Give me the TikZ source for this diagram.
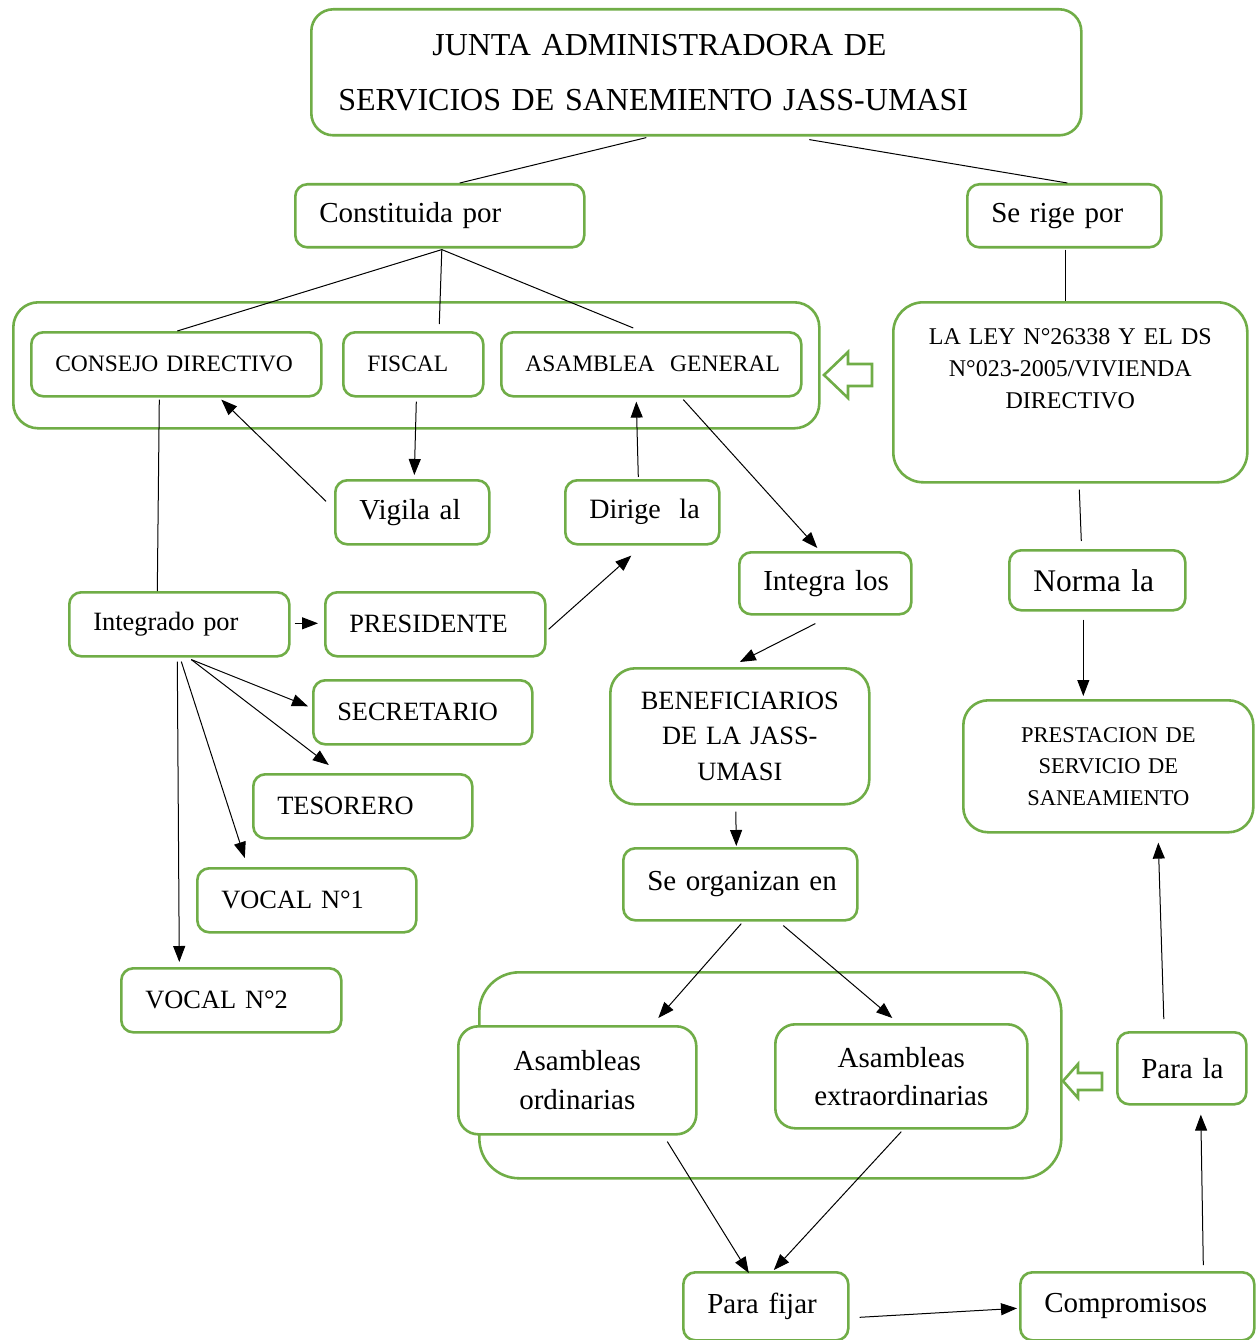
\documentclass[tikz,border=0pt]{standalone}
\usepackage{fontspec}
\setmainfont{Liberation Serif}
\usepackage{xcolor}
\usepackage{tikz}
\usetikzlibrary{arrows.meta, calc}
\definecolor{jassgreen}{RGB}{112,173,71}

\begin{document}
\begin{tikzpicture}[x=1pt,y=1pt,yscale=-1,xscale=1,
  gbox/.style={draw=jassgreen, line width=2.6pt, rounded corners=12pt, fill=white,
    anchor=north west, inner xsep=24pt, inner ysep=0pt, align=left},
  cbox/.style={gbox, align=center},
  fbig/.style={font=\fontsize{29}{39}\selectfont},
  fmid/.style={font=\fontsize{26.4}{35.5}\selectfont},
  fsmall/.style={font=\fontsize{23.5}{32}\selectfont},
  ln/.style={line width=1pt},
  arr/.style={line width=1pt, -{Triangle[length=16pt,width=12pt]}},
  hollow/.style={draw=jassgreen, line width=2.6pt, fill=white, line join=miter}
]
\useasboundingbox (0,0) rectangle (1259,1340);
\clip (0,0) rectangle (1259,1340);

%Shape: Rounded Rect (frames)
\node (grp1) [gbox, rounded corners=25pt, minimum width=806pt, minimum height=126pt, inner sep=0pt] at (12,301) {};
\node (grp2) [gbox, rounded corners=40pt, minimum width=582pt, minimum height=206pt, inner sep=0pt] at (478,971) {};

%Shape: Left Arrow
\draw[hollow] (824,375) -- (848,352) -- (848,364) -- (872,364) -- (872,386) -- (848,386) -- (848,398) -- cycle;
%Shape: Left Arrow
\draw[hollow] (1063,1081) -- (1078,1064) -- (1078,1073) -- (1102,1073) -- (1102,1090) -- (1078,1090) -- (1078,1098) -- cycle;

% Text Node
\node (title) [gbox, rounded corners=22pt, inner xsep=27pt, text width=716pt, minimum height=126pt,
  font=\fontsize{32}{55}\selectfont] at (310,8)
  {\hspace*{94pt}JUNTA ADMINISTRADORA DE\\SERVICIOS DE SANEMIENTO JASS-UMASI};
% Text Node
\node (constit) [gbox, fbig, text width=241pt, minimum height=63pt] at (294,183) {Constituida por};
% Text Node
\node (serige) [gbox, fbig, text width=146pt, minimum height=63pt] at (966,183) {Se rige por};
% Text Node
\node (consejo) [gbox, fsmall, text width=242pt, minimum height=64pt] at (30,331) {CONSEJO DIRECTIVO};
% Text Node
\node (fiscal) [gbox, fsmall, text width=92pt, minimum height=64pt] at (342,331) {FISCAL};
% Text Node
\node (asamblea) [gbox, fsmall, text width=252pt, minimum height=64pt] at (500,331) {\mbox{ASAMBLEA\ \ GENERAL}};
% Text Node
\node (ley) [cbox, rounded corners=30pt, text width=306pt, minimum height=180pt,
  font=\fontsize{24}{32}\selectfont] at (892,301)
  {LA LEY N°26338 Y EL DS\\N°023-2005/VIVIENDA\\DIRECTIVO\\[16pt]\mbox{}};
% Text Node
\node (vigila) [gbox, fbig, text width=106pt, minimum height=64pt] at (334,479) {\mbox{Vigila al}};
% Text Node
\node (dirige) [gbox, font=\fontsize{28}{38}\selectfont, text width=106pt, minimum height=64pt] at (564,479) {\mbox{Dirige\ \ la}};
% Text Node
\node (integra) [gbox, fbig, text width=124pt, minimum height=62pt] at (738,551) {\mbox{Integra los}};
% Text Node
\node (norma) [gbox, font=\fontsize{31.5}{40}\selectfont, text width=128pt, minimum height=60pt] at (1008,549) {\mbox{Norma la}};
% Text Node
\node (integrado) [gbox, fmid, text width=172pt, minimum height=64pt] at (68,591) {Integrado por};
% Text Node
\node (presidente) [gbox, fmid, text width=172pt, minimum height=64pt] at (324,591) {PRESIDENTE};
% Text Node
\node (secretario) [gbox, fmid, text width=171pt, minimum height=64pt] at (312,679) {SECRETARIO};
% Text Node
\node (tesorero) [gbox, fmid, text width=171pt, minimum height=64pt] at (252,773) {TESORERO};
% Text Node
\node (vocal1) [gbox, fmid, text width=171pt, minimum height=64pt] at (196,867) {\mbox{VOCAL N°1}};
% Text Node
\node (vocal2) [gbox, fmid, text width=172pt, minimum height=64pt] at (120,967) {\mbox{VOCAL N°2}};
% Text Node
\node (benef) [cbox, fmid, rounded corners=25pt, text width=211pt, minimum height=136pt] at (609,667)
  {BENEFICIARIOS\\DE LA JASS-\\UMASI};
% Text Node
\node (seorg) [gbox, fbig, text width=186pt, minimum height=72pt] at (622,847) {\mbox{Se organizan en}};
% Text Node
\node (prestacion) [cbox, rounded corners=25pt, text width=242pt, minimum height=132pt,
  font=\fontsize{22.5}{31.5}\selectfont] at (962,699)
  {PRESTACION DE\\SERVICIO DE\\SANEAMIENTO};
% Text Node
\node (ordin) [cbox, rounded corners=20pt, text width=190pt, minimum height=108pt,
  font=\fontsize{29}{39}\selectfont] at (457,1025) {Asambleas\\ordinarias};
% Text Node
\node (extra) [cbox, rounded corners=20pt, text width=204pt, minimum height=104pt,
  font=\fontsize{29}{38}\selectfont] at (774,1023) {Asambleas\\extraordinarias};
% Text Node
\node (parala) [gbox, fbig, text width=81pt, minimum height=72pt] at (1116,1031) {\mbox{Para la}};
% Text Node
\node (parafijar) [gbox, fbig, text width=117pt, minimum height=68pt] at (682,1271) {\mbox{Para fijar}};
% Text Node
\node (compromisos) [gbox, fbig, text width=186pt, minimum height=68pt] at (1019,1271) {Compromisos};

%Straight Lines
\draw[ln] ($(title.south)+(-50,1)$) -- ($(constit.north)+(20,0)$);
\draw[ln] ($(title.south)+(113,3)$) -- ($(serige.north)+(3,0)$);
\coordinate (cp) at ($(constit.south)+(2,1)$);
\draw[ln] (cp) -- ($(consejo.north)+(1,0)$);
\draw[ln] (cp) -- ($(fiscal.north)+(26,-7)$);
\draw[ln] (cp) -- ($(asamblea.north)+(-18,-3)$);
\draw[ln] ($(serige.south)+(1,1)$) -- ($(ley.north)+(-5,0)$);
\draw[ln] ($(consejo.south)+(-17,2)$) -- ($(integrado.north)+(-22,0)$);
\draw[ln] ($(ley.south)+(9,6)$) -- ($(norma.north)+(-16,-8)$);

%Arrows
\draw[arr] ($(vigila.west)+(-8,-11)$) -- ($(consejo.south)+(45,2)$);
\draw[arr] ($(fiscal.south)+(3,4)$) -- ($(vigila.north)+(2,-4)$);
\draw[arr] ($(dirige.north)+(-4,-2)$) -- ($(asamblea.south)+(-15,4)$);
\draw[arr] ($(asamblea.south)+(32,2)$) -- ($(integra.north)+(-8,-3)$);
\draw[arr] ($(presidente.east)+(2,5)$) -- ($(dirige.south)+(-11,10)$);
\draw[arr] ($(integrado.east)+(4,-1)$) -- ($(presidente.west)+(-6,-1)$);
\draw[arr] ($(integrado.south)+(12,2)$) -- ($(secretario.west)+(-4,-6)$);
\draw[arr] ($(integrado.south)+(12,2)$) -- ($(tesorero.north)+(-34,-8)$);
\draw[arr] ($(integrado.south)+(2,4)$) -- ($(vocal1.north)+(-62,-9)$);
\draw[arr] ($(integrado.south)+(-2,4)$) -- ($(vocal2.north)+(-52,-5)$);
\draw[arr] ($(integra.south)+(-10,8)$) -- ($(benef.north)+(0,-5)$);
\draw[arr] ($(benef.south)+(-4,6)$) -- ($(seorg.north)+(-4,-1)$);
\draw[arr] ($(seorg.south)+(1,2)$) -- ($(ordin.north)+(81,-7)$);
\draw[arr] ($(seorg.south)+(43,4)$) -- ($(extra.north)+(-9,-5)$);
\draw[arr] ($(norma.south)+(-14,8)$) -- ($(prestacion.north)+(-25,-3)$);
\draw[arr] ($(ordin.south)+(90,6)$) -- ($(parafijar.north)+(-17,2)$);
\draw[arr] ($(extra.south)+(0,2)$) -- ($(parafijar.north)+(8,-1)$);
\draw[arr] ($(parafijar.east)+(10,11)$) -- ($(compromisos.west)+(-2,2)$);
\draw[arr] ($(compromisos.north)+(66,-6)$) -- ($(parala.south)+(19,9)$);
\draw[arr] ($(parala.north)+(-18,-12)$) -- ($(prestacion.south)+(50,9)$);

\end{tikzpicture}
\end{document}
